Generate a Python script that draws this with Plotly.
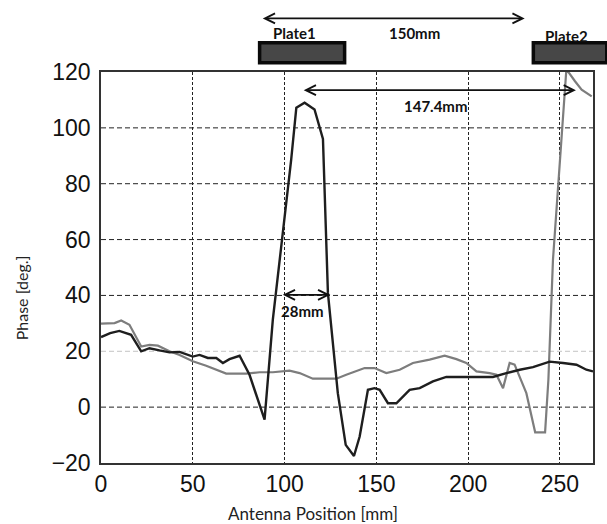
import plotly.graph_objects as go

# ---------------- data ----------------
pos_black = [0, 5, 10, 16.4, 21.9, 26.4, 31.9, 37.3, 42.8, 47.3, 50, 53.7, 58.2, 62.8, 66.4, 70,
             75.5, 80.9, 89.1, 93.6, 98.2, 101.8, 103.6, 106.4, 110.9, 116.3, 120.9, 123.6, 129,
             133.3, 137.8, 140.9, 145.4, 149, 151.8, 156.3, 160.9, 168.1, 173.6, 180.8, 188.1,
             199, 213.5, 220.8, 228.1, 235.3, 244.4, 251.7, 259, 264.4, 268]
phase_black = [25.1, 26.5, 27.3, 25.9, 20, 21.1, 20.3, 19.6, 19.8, 18.7, 18.1, 18.7, 17.6, 17.6, 15.8, 17.2,
               18.4, 11.6, -4.5, 31.3, 57.6, 79.1, 88.6, 107.2, 109, 106.6, 96, 40.9, 5,
               -13.5, -17.5, -10.5, 6.2, 6.8, 6.2, 1.4, 1.4, 6.2, 6.8, 9.2, 10.8,
               10.8, 10.8, 12.2, 13.4, 14.3, 16.3, 15.8, 15.2, 13.4, 12.8]

pos_gray = [0, 7.4, 11, 15.5, 21.9, 26.4, 31, 37.3, 42.8, 50, 57.3, 64.6, 68.2, 73.7, 79.1, 86.4,
            93.6, 102.7, 108.2, 115.4, 128.2, 133.6, 143.6, 149, 155.4, 162.7, 169.9, 179, 187.2,
            193.6, 199, 204.5, 211.7, 215.4, 219, 222.6, 225.3, 231.7, 236.5, 241.9, 243.7, 246.2,
            249.9, 253.5, 258.2, 261.8, 267.3]
phase_gray = [29.9, 30.1, 31, 29.5, 21.7, 22.3, 22, 20, 18.7, 16.4, 14.8, 12.8, 12, 12, 12, 12.5,
              12.5, 13.1, 12.2, 10.2, 10.2, 11.6, 14, 14, 12.2, 13.4, 15.8, 17, 18.4,
              17.2, 15.8, 12.8, 12.2, 11.6, 6.8, 15.8, 15.2, 5, -9, -9, 9.8, 52.8,
              88.6, 121, 116.7, 113.7, 111.3]

x_ticks = [0, 50, 100, 150, 200, 250]
y_ticks = [-20, 0, 20, 40, 60, 80, 100, 120]
x_range = [0, 268]
y_range = [-20, 120]

plate_names = ["Plate1", "Plate2"]
plate_start = [86.4, 235.5]
plate_end = [132.7, 275.5]
plate_low = 123.3
plate_high = 130.5
plate_label_x = [105.6, 253.7]
plate_label_y = [133.8, 133.0]

dim_labels = ["150mm", "147.4mm", "28mm"]
dim_start = [87.3, 109.6, 98.2]
dim_end = [230.8, 258.7, 124.9]
dim_level = [139.2, 113.5, 40.2]
dim_label_x = [170.5, 182.7, 109.6]
dim_label_y = [133.8, 107.7, 34.6]


def xp(v):
    return (v - x_range[0]) / (x_range[1] - x_range[0])


def yp(v):
    return (v - y_range[0]) / (y_range[1] - y_range[0])


fig = go.Figure()
fig.add_trace(go.Scatter(x=pos_gray, y=phase_gray, mode="lines",
                         line=dict(color="#7d7d7d", width=2.2), showlegend=False))
fig.add_trace(go.Scatter(x=pos_black, y=phase_black, mode="lines",
                         line=dict(color="#1e1e1e", width=2.4), showlegend=False))

shapes = []
# horizontal grid lines
for v in y_ticks[1:-1]:
    shapes.append(dict(type="line", xref="paper", yref="y", x0=0, x1=1, y0=v, y1=v,
                       line=dict(color="#c4c4c4" if v == 20 else "#222222", width=1, dash="5px,3px"),
                       layer="below"))
# plates
for s, e in zip(plate_start, plate_end):
    shapes.append(dict(type="rect", xref="paper", yref="paper",
                       x0=xp(s), x1=xp(e), y0=yp(plate_low), y1=yp(plate_high),
                       fillcolor="#474747", line=dict(color="#0a0a0a", width=3.5)))

annotations = []
lab_font = dict(family="Lato, Open Sans, sans-serif", size=15, color="#111111")
for name, lx, ly in zip(plate_names, plate_label_x, plate_label_y):
    annotations.append(dict(x=lx, y=yp(ly), xref="x", yref="paper", text="<b>%s</b>" % name,
                            showarrow=False, font=lab_font, xanchor="center", yanchor="middle"))
for lab, s, e, lv, tx, ty in zip(dim_labels, dim_start, dim_end, dim_level, dim_label_x, dim_label_y):
    arrow = dict(text="", showarrow=True, arrowside="end+start", arrowhead=5, startarrowhead=5,
                 arrowsize=1.1, startarrowsize=1.1, arrowwidth=1.8, arrowcolor="#111111",
                 standoff=0, startstandoff=0)
    if lv > y_range[1]:
        arrow.update(x=e, y=yp(lv), xref="x", yref="paper", ax=s, ay=0, axref="x", ayref="pixel")
        annotations.append(arrow)
        annotations.append(dict(x=tx, y=yp(ty), xref="x", yref="paper", text="<b>%s</b>" % lab,
                                showarrow=False, font=lab_font, xanchor="center", yanchor="middle"))
    else:
        arrow.update(x=e, y=lv, xref="x", yref="y", ax=s, ay=lv, axref="x", ayref="y")
        annotations.append(arrow)
        annotations.append(dict(x=tx, y=ty, xref="x", yref="y", text="<b>%s</b>" % lab,
                                showarrow=False, font=lab_font, xanchor="center", yanchor="middle"))

annotations.append(dict(x=-0.16, y=0.422, xref="paper", yref="paper", text="Phase [deg.]",
                        textangle=-90, showarrow=False,
                        font=dict(family="Lato, Open Sans, sans-serif", size=16, color="#222222"),
                        xanchor="center", yanchor="middle"))
annotations.append(dict(x=0.431, y=-0.128, xref="paper", yref="paper", text="Antenna Position [mm]",
                        showarrow=False,
                        font=dict(family="Lato, Open Sans, sans-serif", size=17, color="#222222"),
                        xanchor="center", yanchor="middle"))

tick_font = dict(family="Liberation Sans, Arial, sans-serif", size=23, color="#111111")
fig.update_layout(
    width=607, height=524,
    margin=dict(l=101, r=14, t=72, b=61),
    paper_bgcolor="white", plot_bgcolor="white",
    shapes=shapes, annotations=annotations,
    xaxis=dict(range=x_range, tickvals=x_ticks, ticktext=[str(v) for v in x_ticks],
               showgrid=True, gridcolor="#222222", gridwidth=1, griddash="3px,2px",
               zeroline=False, showline=True, linecolor="#333333", linewidth=1.5, mirror=True,
               ticks="", tickfont=tick_font, ticklabelstandoff=0),
    yaxis=dict(range=y_range, tickvals=y_ticks, ticktext=["\u221220" if v == -20 else str(v) for v in y_ticks],
               showgrid=False, zeroline=False, showline=True, linecolor="#333333", linewidth=1.5,
               mirror=True, ticks="", tickfont=tick_font, ticklabelstandoff=4),
)

fig.write_html("out.html", config={"displayModeBar": False},
               post_script="document.body.style.margin='0';")
